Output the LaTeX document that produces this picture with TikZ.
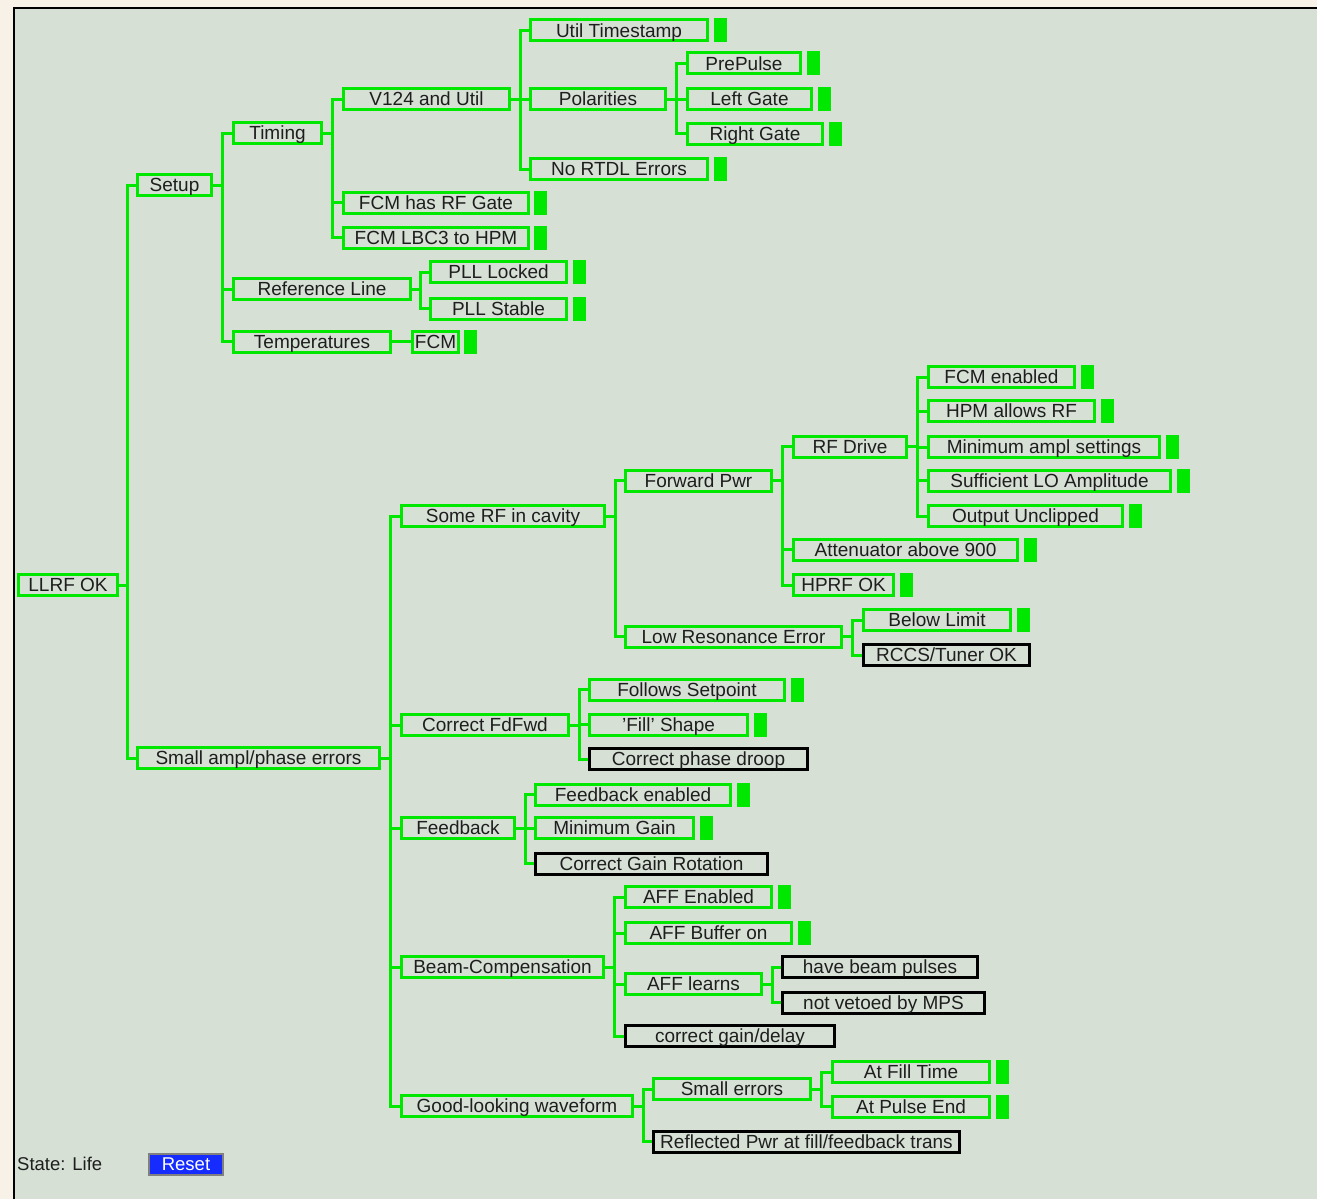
\documentclass[tikz,border=0pt]{standalone}
\usepackage{fontspec}
\setmainfont{Liberation Sans}
\usetikzlibrary{positioning}

\definecolor{okgreen}{RGB}{0,232,0}
\definecolor{panelbg}{RGB}{214,224,213}
\definecolor{outerbg}{RGB}{247,241,232}
\definecolor{resetblue}{RGB}{22,44,255}
\definecolor{inkgray}{RGB}{30,30,30}

\tikzset{
  box/.style={draw=okgreen, line width=3pt, minimum height=21pt, inner sep=0pt,
    text height=13.6pt, text depth=0pt, text=inkgray, font=\fontsize{19}{20}\selectfont},
  boxoff/.style={box, draw=black},
  led/.style={fill=okgreen, minimum width=13pt, minimum height=24pt, inner sep=0pt, outer sep=0pt},
  wire/.style={draw=okgreen, line width=3pt},
}

\begin{document}
\begin{tikzpicture}[x=1pt, y=-1pt]

        \useasboundingbox (0,0) rectangle (1317,1199);
        \fill[outerbg] (0,0) rectangle (1317,1199);
        \fill[panelbg] (14,8) rectangle (1317,1199);
        \draw[black, line width=2pt] (14,1199) -- (14,8) -- (1317,8);

        % top level
        \node[box, minimum width=99pt] (llrf) at (68,585) {LLRF OK};
        \node[box, minimum width=74pt] (setup) at (174.5,185) {Setup};
        \node[box, minimum width=242pt] (small) at (258.5,758) {Small ampl/phase errors};

        % setup branch
        \node[box, minimum width=88pt] (timing) at (277.5,133) {Timing};
        \node[box, minimum width=177pt] (refline) at (322,289) {Reference Line};
        \node[box, minimum width=157pt] (temps) at (312,341.5) {Temperatures};

        \node[box, minimum width=166pt] (v124) at (426.5,99) {V124 and Util};
        \node[box, minimum width=185pt] (fcmgate) at (436,202.5) {FCM has RF Gate};
        \node[box, minimum width=185pt] (fcmlbc) at (436,237.5) {FCM LBC3 to HPM};

        \node[box, minimum width=177pt] (utilts) at (619,30.5) {Util Timestamp};
        \node[box, minimum width=135pt] (polar) at (598,99) {Polarities};
        \node[box, minimum width=177pt] (nortdl) at (619,169) {No RTDL Errors};

        \node[box, minimum width=113pt] (prepulse) at (744,63.5) {PrePulse};
        \node[box, minimum width=124pt] (leftgate) at (749.5,99) {Left Gate};
        \node[box, minimum width=135pt] (rightgate) at (755,133.5) {Right Gate};

        \node[box, minimum width=136pt] (plllock) at (498.5,272) {PLL Locked};
        \node[box, minimum width=136pt] (pllstab) at (498.5,308.5) {PLL Stable};
        \node[box, minimum width=46pt] (tfcm) at (435.5,341.5) {FCM};

        % small errors branch
        \node[box, minimum width=203pt] (somerf) at (503,516) {Some RF in cavity};
        \node[box, minimum width=167pt] (fdfwd) at (485,725) {Correct FdFwd};
        \node[box, minimum width=113pt] (fback) at (458,828) {Feedback};
        \node[box, minimum width=202pt] (beamcomp) at (502.5,967) {Beam-Compensation};
        \node[box, minimum width=231pt] (waveform) at (517,1106) {Good-looking waveform};

        \node[box, minimum width=146pt] (fwdpwr) at (698.5,480.5) {Forward Pwr};
        \node[box, minimum width=216pt] (lowres) at (733.5,636.5) {Low Resonance Error};

        \node[box, minimum width=113pt] (rfdrive) at (850,446.5) {RF Drive};
        \node[box, minimum width=224pt] (atten) at (905.5,549.5) {Attenuator above 900};
        \node[box, minimum width=100pt] (hprf) at (843.5,585) {HPRF OK};

        \node[box, minimum width=146pt] (fcmen) at (1001.5,377) {FCM enabled};
        \node[box, minimum width=166pt] (hpm) at (1011.5,411) {HPM allows RF};
        \node[box, minimum width=231pt] (minampl) at (1044,447) {Minimum ampl settings};
        \node[box, minimum width=242pt] (suflo) at (1049.5,480.5) {Sufficient LO Amplitude};
        \node[box, minimum width=194pt] (unclip) at (1025.5,516) {Output Unclipped};

        \node[box, minimum width=147pt] (belowlim) at (937,620) {Below Limit};
        \node[boxoff, minimum width=166pt] (rccs) at (946.5,655) {RCCS/Tuner OK};

        \node[box, minimum width=195pt] (follows) at (687,689.5) {Follows Setpoint};
        \node[box, minimum width=158pt] (fillshape) at (668.5,724.5) {'Fill' Shape};
        \node[boxoff, minimum width=218pt] (droop) at (698.5,759) {Correct phase droop};

        \node[box, minimum width=195pt] (fben) at (633,794.5) {Feedback enabled};
        \node[box, minimum width=158pt] (mingain) at (614.5,828) {Minimum Gain};
        \node[boxoff, minimum width=232pt] (gainrot) at (651.5,863.5) {Correct Gain Rotation};

        \node[box, minimum width=146pt] (affen) at (698.5,897) {AFF Enabled};
        \node[box, minimum width=166pt] (affbuf) at (708.5,933) {AFF Buffer on};
        \node[box, minimum width=136pt] (afflearn) at (693.5,984) {AFF learns};
        \node[boxoff, minimum width=209pt] (gaindel) at (730,1036) {correct gain/delay};
        \node[boxoff, minimum width=195pt] (beampul) at (880,967) {have beam pulses};
        \node[boxoff, minimum width=202pt] (noveto) at (883.5,1002.5) {not vetoed by MPS};

        \node[box, minimum width=157pt] (smallerr) at (732,1089) {Small errors};
        \node[boxoff, minimum width=306pt] (reflpwr) at (806.5,1141.5) {Reflected Pwr at fill/feedback trans};
        \node[box, minimum width=157pt] (filltime) at (911,1072) {At Fill Time};
        \node[box, minimum width=157pt] (pulseend) at (911,1106.5) {At Pulse End};

        % status lamps
        \node[led, right=5pt of utilts] (utilts-ok) {};
        \node[led, right=5pt of nortdl] (nortdl-ok) {};
        \node[led, right=5pt of prepulse] (prepulse-ok) {};
        \node[led, right=5pt of leftgate] (leftgate-ok) {};
        \node[led, right=5pt of rightgate] (rightgate-ok) {};
        \node[led, right=4pt of fcmgate] (fcmgate-ok) {};
        \node[led, right=4pt of fcmlbc] (fcmlbc-ok) {};
        \node[led, right=5pt of plllock] (plllock-ok) {};
        \node[led, right=5pt of pllstab] (pllstab-ok) {};
        \node[led, right=4pt of tfcm] (tfcm-ok) {};
        \node[led, right=5pt of atten] (atten-ok) {};
        \node[led, right=5pt of hprf] (hprf-ok) {};
        \node[led, right=5pt of fcmen] (fcmen-ok) {};
        \node[led, right=5pt of hpm] (hpm-ok) {};
        \node[led, right=5pt of minampl] (minampl-ok) {};
        \node[led, right=5pt of suflo] (suflo-ok) {};
        \node[led, right=5pt of unclip] (unclip-ok) {};
        \node[led, right=5pt of belowlim] (belowlim-ok) {};
        \node[led, right=5pt of follows] (follows-ok) {};
        \node[led, right=5pt of fillshape] (fillshape-ok) {};
        \node[led, right=5pt of fben] (fben-ok) {};
        \node[led, right=5pt of mingain] (mingain-ok) {};
        \node[led, right=5pt of affen] (affen-ok) {};
        \node[led, right=5pt of affbuf] (affbuf-ok) {};
        \node[led, right=5pt of filltime] (filltime-ok) {};
        \node[led, right=5pt of pulseend] (pulseend-ok) {};

        % tree wiring
        \draw[wire] (llrf.east) -- ++(8,0) |- (setup.west);
        \draw[wire] (llrf.east) -- ++(8,0) |- (small.west);

        \draw[wire] (setup.east) -- ++(9.5,0) |- (timing.west);
        \draw[wire] (setup.east) -- ++(9.5,0) |- (refline.west);
        \draw[wire] (setup.east) -- ++(9.5,0) |- (temps.west);

        \draw[wire] (timing.east) -- ++(9.5,0) |- (v124.west);
        \draw[wire] (timing.east) -- ++(9.5,0) |- (fcmgate.west);
        \draw[wire] (timing.east) -- ++(9.5,0) |- (fcmlbc.west);

        \draw[wire] (v124.east) -- ++(9,0) |- (utilts.west);
        \draw[wire] (v124.east) -- ++(9,0) |- (polar.west);
        \draw[wire] (v124.east) -- ++(9,0) |- (nortdl.west);

        \draw[wire] (polar.east) -- ++(9.5,0) |- (prepulse.west);
        \draw[wire] (polar.east) -- ++(9.5,0) |- (leftgate.west);
        \draw[wire] (polar.east) -- ++(9.5,0) |- (rightgate.west);

        \draw[wire] (refline.east) -- ++(8.5,0) |- (plllock.west);
        \draw[wire] (refline.east) -- ++(8.5,0) |- (pllstab.west);
        \draw[wire] (temps.east) -- (tfcm.west);

        \draw[wire] (small.east) -- ++(9.5,0) |- (somerf.west);
        \draw[wire] (small.east) -- ++(9.5,0) |- (fdfwd.west);
        \draw[wire] (small.east) -- ++(9.5,0) |- (fback.west);
        \draw[wire] (small.east) -- ++(9.5,0) |- (beamcomp.west);
        \draw[wire] (small.east) -- ++(9.5,0) |- (waveform.west);

        \draw[wire] (somerf.east) -- ++(9,0) |- (fwdpwr.west);
        \draw[wire] (somerf.east) -- ++(9,0) |- (lowres.west);

        \draw[wire] (fwdpwr.east) -- ++(9.5,0) |- (rfdrive.west);
        \draw[wire] (fwdpwr.east) -- ++(9.5,0) |- (atten.west);
        \draw[wire] (fwdpwr.east) -- ++(9.5,0) |- (hprf.west);

        \draw[wire] (rfdrive.east) -- ++(9.5,0) |- (fcmen.west);
        \draw[wire] (rfdrive.east) -- ++(9.5,0) |- (hpm.west);
        \draw[wire] (rfdrive.east) -- ++(9.5,0) |- (minampl.west);
        \draw[wire] (rfdrive.east) -- ++(9.5,0) |- (suflo.west);
        \draw[wire] (rfdrive.east) -- ++(9.5,0) |- (unclip.west);

        \draw[wire] (lowres.east) -- ++(9.5,0) |- (belowlim.west);
        \draw[wire] (lowres.east) -- ++(9.5,0) |- (rccs.west);

        \draw[wire] (fdfwd.east) -- ++(9,0) |- (follows.west);
        \draw[wire] (fdfwd.east) -- ++(9,0) |- (fillshape.west);
        \draw[wire] (fdfwd.east) -- ++(9,0) |- (droop.west);

        \draw[wire] (fback.east) -- ++(9,0) |- (fben.west);
        \draw[wire] (fback.east) -- ++(9,0) |- (mingain.west);
        \draw[wire] (fback.east) -- ++(9,0) |- (gainrot.west);

        \draw[wire] (beamcomp.east) -- ++(9.5,0) |- (affen.west);
        \draw[wire] (beamcomp.east) -- ++(9.5,0) |- (affbuf.west);
        \draw[wire] (beamcomp.east) -- ++(9.5,0) |- (afflearn.west);
        \draw[wire] (beamcomp.east) -- ++(9.5,0) |- (gaindel.west);

        \draw[wire] (afflearn.east) -- ++(9,0) |- (beampul.west);
        \draw[wire] (afflearn.east) -- ++(9,0) |- (noveto.west);

        \draw[wire] (waveform.east) -- ++(9,0) |- (smallerr.west);
        \draw[wire] (waveform.east) -- ++(9,0) |- (reflpwr.west);

        \draw[wire] (smallerr.east) -- ++(9.5,0) |- (filltime.west);
        \draw[wire] (smallerr.east) -- ++(9.5,0) |- (pulseend.west);

        % status line
        \node[anchor=west, inner sep=0pt, text=inkgray, font=\fontsize{18.5}{20}\selectfont] (state) at (17,1164) {State: Life};
        \node[draw=gray, line width=2pt, fill=resetblue, text=white, minimum width=74pt, minimum height=21pt,
          inner sep=0pt, font=\fontsize{18.5}{20}\selectfont] (reset) at (186,1164.5) {Reset};
    \end{tikzpicture}
\end{document}
